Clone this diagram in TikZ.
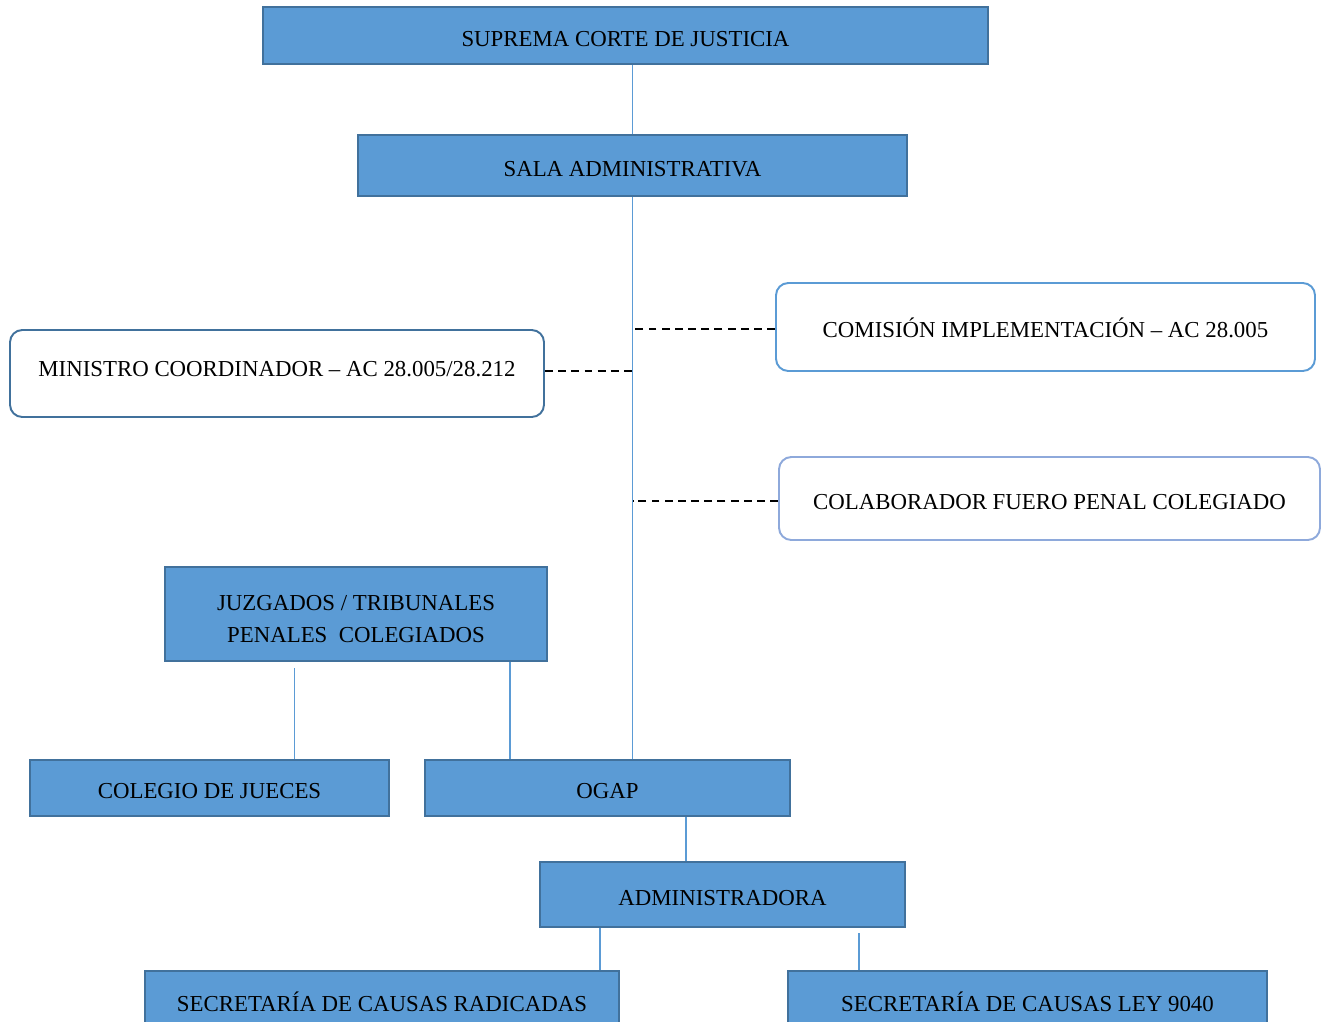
\documentclass[tikz,border=0pt]{standalone}
\usepackage{fontspec}
\setmainfont{Liberation Serif}
\definecolor{boxblue}{HTML}{5B9BD5}
\definecolor{edgeblue}{HTML}{41719C}
\definecolor{paleblue}{HTML}{8EA9DB}
\tikzset{
  box/.style={draw=edgeblue, line width=1.1pt, fill=boxblue, inner sep=2pt,
    font=\fontsize{13}{18}\selectfont, align=center},
  lowtext/.style={text height=12.4pt, text depth=0pt},
  roundbox/.style={draw=edgeblue, line width=1.1pt, fill=white, rounded corners=7pt,
    font=\fontsize{13}{18}\selectfont, lowtext},
  conn/.style={draw=boxblue, line width=0.6pt},
  link/.style={draw=black, dash pattern=on 4.5pt off 3pt, line width=0.9pt}
}
\begin{document}
\begin{tikzpicture}[>=stealth]
\clip (0,0) rectangle (26.5,-20.44);
\useasboundingbox (0,0) rectangle (26.5,-20.44);
\node  (scj) at (12.51, -0.71) [box, lowtext, minimum width=14.5cm, minimum height=1.14cm] {SUPREMA CORTE DE JUSTICIA};
\node (sala) at (12.65, -3.31) [box, lowtext, minimum width=10.98cm, minimum height=1.22cm] {SALA ADMINISTRATIVA};
\node  (com) at (20.91, -6.54) [roundbox, draw=boxblue, minimum width=10.78cm, minimum height=1.76cm] {COMISIÓN IMPLEMENTACIÓN – AC 28.005};
\node  (min) at (5.54, -7.47) [roundbox, text height=8pt, text depth=4.5pt, minimum width=10.68cm, minimum height=1.74cm] {MINISTRO COORDINADOR – AC 28.005/28.212};
\node (colab) at (20.99, -9.97) [roundbox, draw=paleblue, minimum width=10.82cm, minimum height=1.66cm] {COLABORADOR FUERO PENAL COLEGIADO};
\node  (juz) at (7.12, -12.28) [box, minimum width=7.64cm, minimum height=1.88cm] {\rule{0pt}{14pt}JUZGADOS / TRIBUNALES\\PENALES\ \ COLEGIADOS};
\node (colegio) at (4.19, -15.76) [box, lowtext, minimum width=7.18cm, minimum height=1.12cm] {COLEGIO DE JUECES};
\node (ogap) at (12.15, -15.76) [box, lowtext, minimum width=7.3cm, minimum height=1.12cm] {OGAP};
\node (admin) at (14.45, -17.89) [box, lowtext, minimum width=7.3cm, minimum height=1.3cm] {ADMINISTRADORA};
\node  (rad) at (7.64, -20.02) [box, lowtext, minimum width=9.48cm, minimum height=1.2cm] {SECRETARÍA DE CAUSAS RADICADAS};
\node  (ley) at (20.55, -20.02) [box, lowtext, minimum width=9.58cm, minimum height=1.2cm] {SECRETARÍA DE CAUSAS LEY 9040};
% trunk
\draw [conn] (sala.north) -- (sala.north |- scj.south);
\draw [conn] (sala.south) -- (sala.south |- ogap.north);
% dashed links to the trunk
\draw [link] ([yshift=-0.04cm]com.west) -- ([yshift=-0.04cm]com.west -| sala.south);
\draw [link] ([yshift=0.05cm]min.east) -- ([yshift=0.05cm]min.east -| sala.south);
\draw [link] ([yshift=-0.05cm]colab.west) -- ([yshift=-0.05cm]colab.west -| sala.south);
% lower branches
\draw [conn] ([xshift=1.7cm]colegio.north) -- ([xshift=1.7cm, yshift=-0.12cm]colegio.north |- juz.south);
\draw [conn] ([xshift=-1.95cm]ogap.north) -- ([xshift=-1.95cm]ogap.north |- juz.south);
\draw [conn] ([xshift=-0.73cm]admin.north) -- ([xshift=-0.73cm]admin.north |- ogap.south);
\draw [conn] ([xshift=4.36cm]rad.north) -- ([xshift=4.36cm]rad.north |- admin.south);
\draw [conn] ([xshift=-3.37cm]ley.north) -- ([xshift=-3.37cm, yshift=-0.1cm]ley.north |- admin.south);
\end{tikzpicture}
\end{document}
